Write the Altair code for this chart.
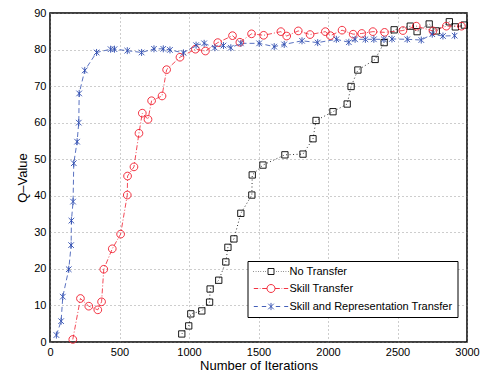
import altair as alt
import pandas as pd

series_names = ["No Transfer", "Skill Transfer", "Skill and Representation Transfer"]

nt_x = [948, 998, 1013, 1092, 1148, 1152, 1214, 1265, 1280, 1323, 1373, 1452, 1455, 1532, 1690,
        1820, 1892, 1914, 2036, 2138, 2166, 2215, 2339, 2404, 2476, 2592, 2641, 2728, 2779, 2873,
        2916, 2981]
nt_y = [2.2, 4.4, 7.7, 8.5, 10.9, 14.5, 16.9, 21.9, 25.9, 28.2, 35.2, 40.2, 45.7, 48.4, 51.2,
        51.4, 55.6, 60.6, 63.0, 65.1, 69.9, 74.4, 77.3, 81.9, 85.4, 86.4, 84.9, 87.0, 85.1, 87.6,
        86.2, 86.7]

st_x = [164, 219, 279, 344, 371, 387, 448, 508, 556, 558, 604, 640, 664, 705, 731, 806, 839, 935,
        1046, 1118, 1207, 1313, 1366, 1450, 1537, 1661, 1703, 1786, 1871, 1981, 2017, 2101, 2181,
        2243, 2323, 2407, 2539, 2635, 2755, 2851, 2960]
st_y = [0.7, 11.9, 9.8, 8.8, 11.0, 19.9, 25.5, 29.5, 40.2, 45.4, 47.9, 57.1, 62.6, 60.9, 66.0,
        67.3, 74.5, 77.9, 80.1, 79.6, 81.9, 83.8, 82.0, 84.3, 83.9, 84.9, 83.7, 85.1, 84.1, 84.9,
        83.8, 85.3, 84.2, 84.4, 84.9, 84.7, 85.2, 86.4, 85.1, 86.4, 86.4]

sr_x = [46, 80, 92, 135, 152, 154, 166, 171, 195, 207, 210, 250, 335, 436, 464, 556, 659, 748,
        815, 863, 960, 1051, 1109, 1186, 1248, 1301, 1373, 1505, 1613, 1685, 1813, 1926, 2060,
        2150, 2195, 2269, 2330, 2402, 2460, 2570, 2671, 2750, 2827, 2911]
sr_y = [1.9, 5.7, 12.4, 19.9, 26.5, 33.2, 38.4, 48.9, 54.8, 60.0, 68.0, 74.3, 79.2, 80.1, 80.1,
        79.7, 79.2, 80.2, 80.2, 79.9, 79.1, 81.2, 81.7, 80.5, 81.1, 80.5, 81.7, 81.7, 80.8, 81.4,
        82.4, 81.9, 82.8, 82.0, 82.8, 82.8, 82.8, 82.8, 82.9, 82.8, 82.6, 84.2, 83.7, 83.8]

x_ticks = [0, 500, 1000, 1500, 2000, 2500, 3000]
y_ticks = [0, 10, 20, 30, 40, 50, 60, 70, 80, 90]

colors = ["#000000", "#f01c2c", "#2f4db0"]
dashes = [[1, 2.5], [5, 2, 1, 2], [5, 3]]

rows = []
for name, xs, ys in zip(series_names, [nt_x, st_x, sr_x], [nt_y, st_y, sr_y]):
    for xv, yv in zip(xs, ys):
        rows.append({"iter": xv, "q": yv, "series": name})
df = pd.DataFrame(rows)

# marker shapes (unit box)
m_square = "M-0.9,-0.9L0.9,-0.9L0.9,0.9L-0.9,0.9Z"
m_circle = "M1.1,0A1.1,1.1 0 1,1 -1.1,0A1.1,1.1 0 1,1 1.1,0Z"
m_star = "M-0.8,-0.8L0.8,0.8M-0.8,0.8L0.8,-0.8M0,-1L0,1"

# legend symbols: line sample + marker
def mirror(segs):
    out = ""
    for a, b in segs:
        out += f"M{-a},0L{-b},0M{b},0L{a},0"
    return out

leg_square = mirror([(4.4, 4.28), (3.8, 3.68), (3.2, 3.08), (2.6, 2.48), (2.0, 1.88), (1.4, 1.28)]) + \
    "M-0.75,-0.75L0.75,-0.75L0.75,0.75L-0.75,0.75Z"
leg_circle = mirror([(4.3, 3.2), (2.8, 2.65), (2.2, 1.0)]) + \
    "M1,0A1,1 0 1,1 -1,0A1,1 0 1,1 1,0Z"
leg_star = mirror([(4.3, 3.3), (2.3, 1.2)]) + \
    "M-0.7,-0.7L0.7,0.7M-0.7,0.7L0.7,-0.7M0,-0.9L0,0.9"

def x_enc():
    return alt.X("iter:Q", scale=alt.Scale(domain=[0, 3000], nice=False),
                 axis=alt.Axis(values=x_ticks, format="d", title="Number of Iterations",
                               labelFlush=False, labelPadding=4, titleY=23,
                               titleBaseline="middle"))

def y_enc():
    return alt.Y("q:Q", scale=alt.Scale(domain=[0, 90], nice=False),
                 axis=alt.Axis(values=y_ticks, format="d", title="Q\u2013Value",
                               labelPadding=4, labelOverlap=False,
                               titleX=-28, titleBaseline="middle"))

color_scale = alt.Scale(domain=series_names, range=colors)

lines = alt.Chart(df).mark_line(strokeWidth=0.8).encode(
    x=x_enc(), y=y_enc(),
    color=alt.Color("series:N", scale=color_scale, legend=None),
    strokeDash=alt.StrokeDash("series:N", scale=alt.Scale(domain=series_names, range=dashes), legend=None),
    order="iter:Q",
)

markers = alt.Chart(df).mark_point(filled=False, size=49, strokeWidth=0.9, opacity=1).encode(
    x=x_enc(), y=y_enc(),
    color=alt.Color("series:N", scale=color_scale, legend=None),
    shape=alt.Shape("series:N", scale=alt.Scale(domain=series_names, range=[m_square, m_circle, m_star]), legend=None),
)

leg_props = dict(orient="none", legendX=197.5, legendY=248, title=None, padding=5,
                 fillColor="white", strokeColor="black", symbolSize=64, symbolStrokeWidth=0.9,
                 symbolOffset=13, labelOffset=13, rowPadding=5, labelFontSize=11,
                 labelFont="Liberation Sans", labelColor="black", symbolOpacity=1, labelLimit=300)

legend_layer = alt.Chart(df).mark_point(filled=False, size=64, opacity=0).encode(
    x=x_enc(), y=y_enc(),
    color=alt.Color("series:N", scale=color_scale, legend=alt.Legend(**leg_props)),
    shape=alt.Shape("series:N", scale=alt.Scale(domain=series_names, range=[leg_square, leg_circle, leg_star]),
                    legend=alt.Legend(**leg_props)),
)

chart = alt.layer(lines, markers, legend_layer).resolve_scale(
    color="independent", shape="independent", strokeDash="independent"
).properties(
    width=417, height=329,
    autosize=alt.AutoSizeParams(type="none"),
    padding={"left": 50, "top": 13, "right": 14, "bottom": 31},
    background="white",
).configure_view(
    stroke="black", strokeWidth=1.5
).configure_axis(
    labelFont="Liberation Sans", labelFontSize=11, labelColor="black",
    titleFont="Liberation Sans", titleFontSize=13, titleFontWeight="normal", titleColor="black",
    grid=True, gridColor="#808080", gridDash=[1, 3], gridWidth=0.8, gridOpacity=1,
    ticks=False, domain=False,
)

chart.save("out.html", embed_options={"renderer": "svg", "actions": False})
